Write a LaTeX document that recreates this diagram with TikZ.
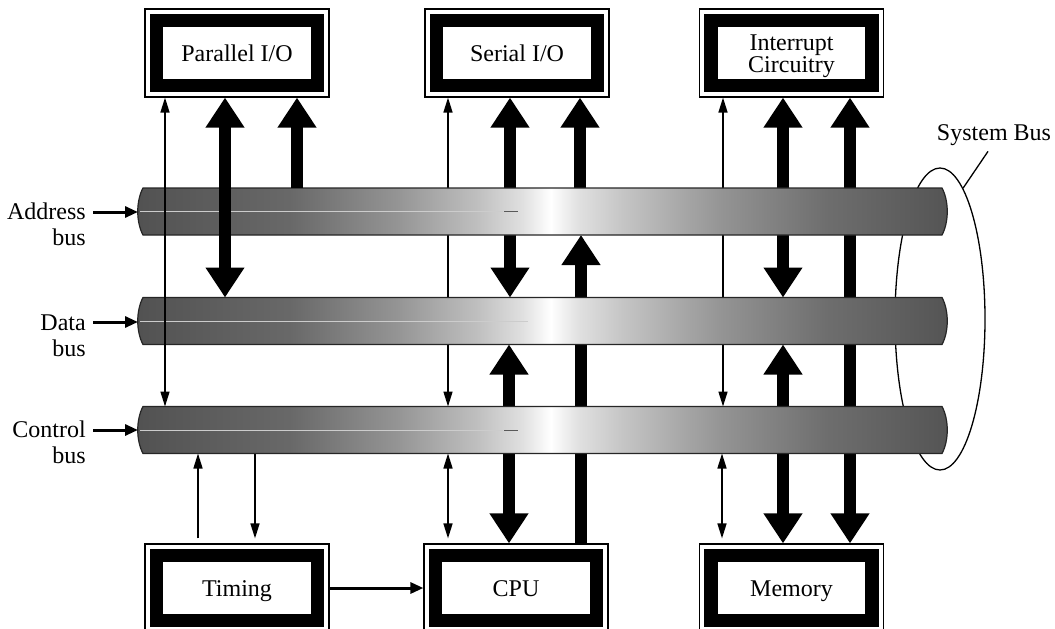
\documentclass[tikz,border=0pt]{standalone}
\usepackage{fontspec}
\setmainfont{Liberation Serif}
\usetikzlibrary{arrows.meta,shapes.geometric}
\pgfdeclarehorizontalshading{busshade}{100bp}{color(0bp)=(black!68); color(25bp)=(black!68); color(34.5bp)=(black!59); color(41bp)=(black!42); color(46bp)=(black!25); color(48.8bp)=(black!12); color(50.5bp)=(white); color(52.2bp)=(black!12); color(55bp)=(black!23); color(61bp)=(black!42); color(67.5bp)=(black!57); color(75bp)=(black!67); color(100bp)=(black!67)}
\newcommand{\drawbus}[1]{%
  \path[busfill] (#1.north west) -- (#1.north east)
    .. controls ([xshift=7pt,yshift=-13pt]#1.north east) and ([xshift=7pt,yshift=13pt]#1.south east) .. (#1.south east)
    -- (#1.south west)
    .. controls ([xshift=-7pt,yshift=13pt]#1.south west) and ([xshift=-7pt,yshift=-13pt]#1.north west) .. (#1.north west) -- cycle;}
\tikzset{
  bigtip/.tip={Triangle[width=37pt,length=30pt]},
  thintip/.tip={Triangle[width=9pt,length=15pt]},
  midtip/.tip={Triangle[width=11pt,length=13pt]},
  txt/.style={font=\fontsize{24}{22}\selectfont},
  unitbox/.style={txt, draw, line width=1.2pt, fill=white, minimum width=184pt, minimum height=88pt,
    inner sep=0pt, align=center, text height=17pt, text depth=0pt,
    path picture={\draw[line width=13.5pt] ([shift={(11.5,11.5)}]path picture bounding box.north west)
      rectangle ([shift={(-11.5,-11.5)}]path picture bounding box.south east);}},
  busbox/.style={minimum width=799pt, minimum height=47pt, inner sep=0pt, outer sep=0pt},
  busfill/.style={shade, shading=busshade, draw=black!85, line width=1.2pt},
  fatarrow/.style={line width=12.5pt, black},
  thinarrow/.style={line width=1.5pt, black},
  midarrow/.style={line width=3pt, black, -midtip},
  lbl/.style={font=\fontsize{24}{26}\selectfont, align=right, inner sep=0pt},
}
\begin{document}
\begin{tikzpicture}[x=1pt,y=-1pt]
\useasboundingbox (0,0) rectangle (1055,629);
% units
\node[unitbox] (par) at (237,53) {Parallel I/O};
\node[unitbox] (ser) at (517,53) {Serial I/O};
\node[unitbox, text height=38pt] (intr) at (791.5,53) {Interrupt\\Circuitry};
\node[unitbox] (tim) at (237,588) {Timing};
\node[unitbox] (cpu) at (516,588) {CPU};
\node[unitbox] (mem) at (791.5,588) {Memory};
% bus placeholders
\node[busbox] (abus) at (542.5,211.5) {};
\node[busbox] (dbus) at (542.5,321) {};
\node[busbox] (cbus) at (542.5,430) {};
% system bus ellipse
\node[ellipse, draw, line width=1.3pt, minimum width=90pt, minimum height=302pt, inner sep=0pt] (sysell) at (940,319) {};
\node[txt, anchor=base, inner sep=0pt] (sysl) at (994,140) {System Bus};
\draw[line width=1.3pt] (sysell.80) -- ([xshift=-6pt,yshift=-6pt]sysl.south);
% arrows behind the buses
\draw[thinarrow, thintip-thintip] ([xshift=-69pt]ser.south) -- ([xshift=-69pt]ser.south |- cbus.north);
\draw[fatarrow, bigtip-bigtip] ([xshift=-7pt]ser.south) -- ([xshift=-7pt]ser.south |- dbus.north);
\draw[fatarrow, -bigtip] ([xshift=63pt]ser.south |- abus.north) -- ([xshift=63pt]ser.south);
\draw[thinarrow, thintip-thintip] ([xshift=-68.5pt]intr.south) -- ([xshift=-68.5pt]intr.south |- cbus.north);
\draw[fatarrow, bigtip-bigtip] ([xshift=-8.5pt]intr.south) -- ([xshift=-8.5pt]intr.south |- dbus.north);
\draw[fatarrow, -bigtip] ([xshift=58.5pt]intr.south |- abus.north) -- ([xshift=58.5pt]intr.south);
\draw[thinarrow, thintip-thintip] ([xshift=-68pt,yshift=5pt]cpu.north) -- ([xshift=-68pt]cpu.north |- cbus.south);
\draw[fatarrow, bigtip-bigtip] ([xshift=-7pt]cpu.north) -- ([xshift=-7pt]cpu.north |- dbus.south);
\draw[fatarrow, -bigtip] ([xshift=65pt]cpu.north) -- ([xshift=65pt]cpu.north |- abus.south);
\draw[thinarrow, thintip-thintip] ([xshift=-69.5pt,yshift=5pt]mem.north) -- ([xshift=-69.5pt]mem.north |- cbus.south);
\draw[fatarrow, bigtip-bigtip] ([xshift=-8.5pt]mem.north) -- ([xshift=-8.5pt]mem.north |- dbus.south);
\draw[fatarrow, -bigtip] ([xshift=58.5pt]mem.north |- abus.south) -- ([xshift=58.5pt]mem.north);
\draw[thinarrow, -thintip] ([xshift=-39pt,yshift=5pt]tim.north) -- ([xshift=-39pt]tim.north |- cbus.south);
\draw[thinarrow, -thintip] ([xshift=18pt]tim.north |- cbus.south) -- ([xshift=18pt,yshift=5pt]tim.north);
% buses
\drawbus{abus}
\drawbus{dbus}
\drawbus{cbus}
\draw[black!20, line width=0.8pt] ([xshift=-3pt]abus.west) -- ++(363,0);
\draw[black!65, line width=0.8pt] ([xshift=361pt]abus.west) -- ++(14,0);
\draw[black!20, line width=0.8pt] ([xshift=-3pt]dbus.west) -- ++(388,0);
\draw[black!20, line width=0.8pt] ([xshift=-3pt]cbus.west) -- ++(363,0);
\draw[black!65, line width=0.8pt] ([xshift=361pt]cbus.west) -- ++(14,0);
% parallel I/O arrows on top of the buses
\draw[thinarrow, thintip-thintip] ([xshift=-72pt]par.south) -- ([xshift=-72pt]par.south |- cbus.north);
\draw[fatarrow, bigtip-bigtip] ([xshift=-12pt]par.south) -- ([xshift=-12pt]par.south |- dbus.north);
\draw[fatarrow, -bigtip] ([xshift=60pt]par.south |- abus.north) -- ([xshift=60pt]par.south);
% bus labels
\node[lbl, anchor=base east] (alab) at (86,245) {Address\\bus};
\node[lbl, anchor=base east] (dlab) at (86,356) {Data\\bus};
\node[lbl, anchor=base east] (clab) at (86,463) {Control\\bus};
\coordinate (as) at (93,212);
\coordinate (ds) at (93,322);
\coordinate (cs) at (93,430);
\draw[midarrow] (as) -- ([xshift=-5pt]abus.west |- as);
\draw[midarrow] (ds) -- ([xshift=-5pt]dbus.west |- ds);
\draw[midarrow] (cs) -- ([xshift=-5pt]cbus.west |- cs);
% timing to cpu
\draw[midarrow] (tim.east) -- (cpu.west);
\end{tikzpicture}
\end{document}
